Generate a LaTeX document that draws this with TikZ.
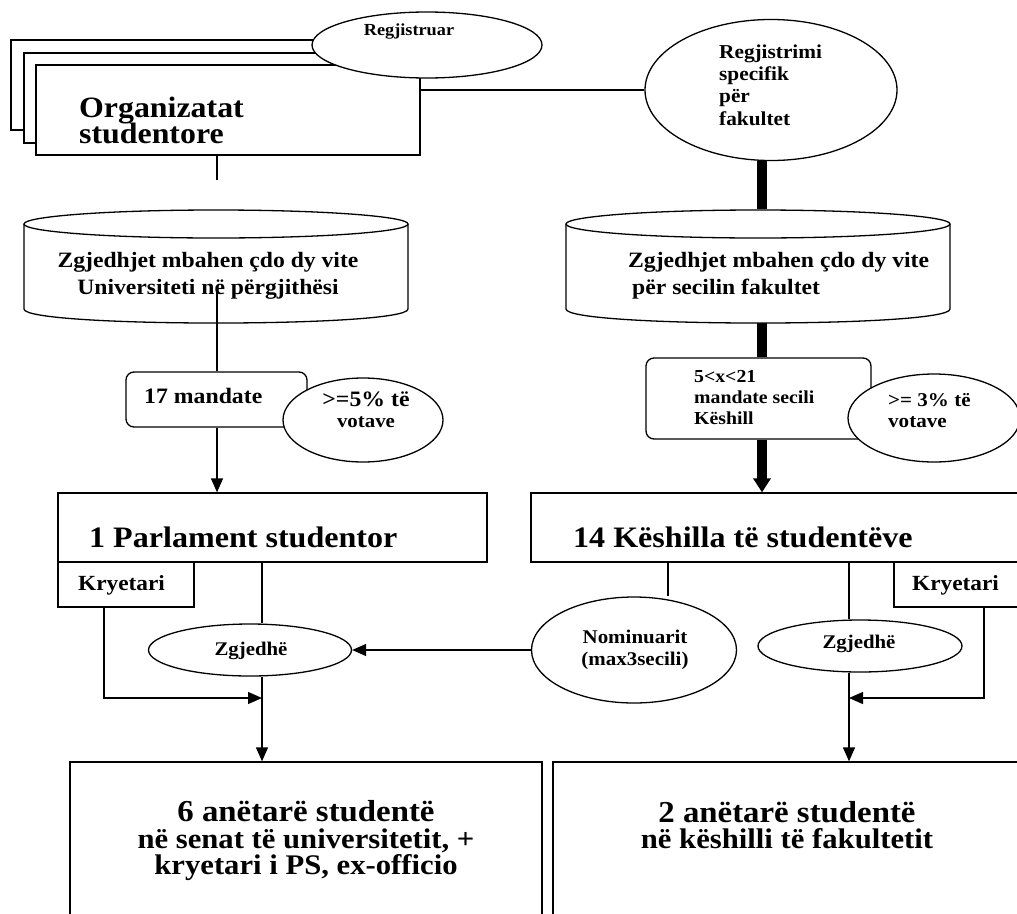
\documentclass[tikz,border=0pt]{standalone}
\usepackage{fontspec}
\setmainfont{Liberation Serif}[FakeStretch=1.08]
\usetikzlibrary{shapes.geometric,arrows.meta,backgrounds}
\newcommand{\fsz}[2]{\fontsize{#1}{#2}\selectfont\lineskiplimit=-100pt\relax}
\tikzset{
 ln/.style={line width=1.3pt},
 thk/.style={line width=10pt},
 arr/.style={ln,-{Triangle[width=12pt,length=14pt]}},
 tarr/.style={thk,-{Triangle[width=17pt,length=14pt]}},
 box/.style={draw,fill=white,ln,rectangle,inner sep=0pt},
 rbox/.style={box,rounded corners=8pt},
 ell/.style={draw,fill=white,ln,ellipse,inner sep=0pt},
 tx/.style={inner sep=0pt},
}
\begin{document}
\begin{tikzpicture}[x=1pt,y=-1pt]
\useasboundingbox (0,0) rectangle (1017,913);
\begin{pgfonlayer}{background}
\fill[white] (0,0) rectangle (1017,913);
\end{pgfonlayer}

% Organizatat stack
\node[box,minimum width=384pt,minimum height=90pt] (orgC) at (203,85) {};
\node[box,minimum width=384pt,minimum height=90pt] (orgB) at (216,98) {};
\node[box,minimum width=384pt,minimum height=90pt] (orgA) at (228,110) {};
\node[tx,anchor=west,align=left,font=\bfseries\fsz{29.5}{26}] (orgT) at (79,120) {Organizatat\\studentore};
\node[ell,minimum width=230pt,minimum height=66pt] (reg) at (427,45) {};
\node[tx,anchor=base,font=\bfseries\fsz{16.9}{20}] (regT) at (409,35) {Regjistruar};
\coordinate (stub) at (217,180);

% Regjistrimi
\node[ell,minimum width=252pt,minimum height=141pt] (regS) at (771,90) {};
\node[tx,anchor=west,align=left,font=\bfseries\fsz{19.7}{22.3}] (regST) at (719,85) {Regjistrimi\\specifik\\për\\fakultet};

% left cylinder
\path[ln,draw,fill=white] (24,224) -- (24,309) .. controls (24,327.7) and (408,327.7) .. (408,309) -- (408,224);
\node[ell,minimum width=384pt,minimum height=28pt] (cylLtop) at (216,224) {};
\node[tx,align=center,font=\bfseries\fsz{21.9}{27}] (cylLT) at (208,276) {Zgjedhjet mbahen çdo dy vite\\Universiteti në përgjithësi};
\coordinate (cLin) at (217,292);

% right cylinder
\path[ln,draw,fill=white] (566,224) -- (566,309) .. controls (566,327.7) and (950,327.7) .. (950,309) -- (950,224);
\node[ell,minimum width=384pt,minimum height=28pt] (cylRtop) at (758,224) {};
\node[tx,anchor=west,align=left,font=\bfseries\fsz{21.9}{27}] (cylRT) at (628,276) {Zgjedhjet mbahen çdo dy vite\\\hspace*{4pt}për secilin fakultet};
\coordinate (cylRbot) at (758,322);
\coordinate (tc) at (762,0);

% mandate boxes
\node[rbox,minimum width=181pt,minimum height=55pt] (box17) at (216.5,399.5) {};
\node[tx,anchor=base west,font=\bfseries\fsz{22}{24}] (box17T) at (144,403) {17 mandate};
\node[ell,minimum width=160pt,minimum height=84pt] (ell5) at (363,420) {};
\node[tx,align=center,font=\bfseries\fsz{22}{21}] (ell5T) at (366,410) {>=5\% të\\{\fsz{19.3}{21}votave}};

\node[rbox,minimum width=225pt,minimum height=81pt] (boxR) at (758.5,398.5) {};
\node[tx,anchor=west,align=left,font=\bfseries\fsz{18.3}{21}] (boxRT) at (694,398) {5<x<21\\mandate secili\\Këshill};
\node[ell,minimum width=172pt,minimum height=88pt] (ell3) at (934,418) {};
\node[tx,anchor=west,align=left,font=\bfseries\fsz{19.5}{21}] (ell3T) at (888,411) {>= 3\% të\\votave};

% Parlament / Keshilla
\node[box,minimum width=429pt,minimum height=69pt] (parl) at (272.5,527.5) {};
\node[tx,anchor=base west,font=\bfseries\fsz{29.7}{32}] (parlT) at (89,547) {1 Parlament studentor};
\node[box,minimum width=494pt,minimum height=69pt] (kesh) at (778,527.5) {};
\node[tx,anchor=base west,font=\bfseries\fsz{29.7}{32}] (keshT) at (573,547) {14 Këshilla të studentëve};

\node[box,minimum width=136pt,minimum height=45pt] (kryL) at (126,584.5) {};
\node[tx,anchor=base,font=\bfseries\fsz{21.6}{24}] (kryLT) at (121.5,590) {Kryetari};
\node[box,minimum width=136pt,minimum height=45pt] (kryR) at (962,584.5) {};
\node[tx,anchor=base,font=\bfseries\fsz{21.6}{24}] (kryRT) at (955.5,590) {Kryetari};

% Zgjedhe / Nominuarit
\node[ell,minimum width=203pt,minimum height=52pt] (zL) at (250,650) {};
\node[tx,anchor=base,font=\bfseries\fsz{19.3}{22}] (zLT) at (251,655) {Zgjedhë};
\node[ell,minimum width=205pt,minimum height=106pt] (nom) at (634,650) {};
\node[tx,align=center,font=\bfseries\fsz{19.4}{22}] (nomT) at (635,649.5) {Nominuarit\\(max3secili)};
\node[ell,minimum width=204pt,minimum height=52pt] (zR) at (860,646) {};
\node[tx,anchor=base,font=\bfseries\fsz{19.3}{22}] (zRT) at (859,648) {Zgjedhë};

% bottom boxes
\node[box,minimum width=472pt,minimum height=200pt] (sen) at (306,862) {};
\node[tx,align=center,font=\bfseries\fsz{30.4}{26.5}] (senT) at (306,841) {6 anëtarë studentë\\\fsz{28.4}{26.5}në senat të universitetit, +\\\fsz{28.4}{26.5}kryetari i PS, ex-officio};
\node[box,minimum width=477pt,minimum height=200pt] (fak) at (791.5,862) {};
\node[tx,align=center,font=\bfseries\fsz{30.4}{26.5}] (fakT) at (787,825) {2 anëtarë studentë\\\fsz{28.4}{26.5}në këshilli të fakultetit};

% helper coordinates
\coordinate (zLx) at (262,0);
\coordinate (kx) at (104,0);
\coordinate (jL) at (262,698);
\coordinate (nx) at (668,0);
\coordinate (zRx) at (849,0);
\coordinate (krx) at (984,0);
\coordinate (jR) at (849,698);

% line drawn over left cylinder
\draw[ln] (cLin) -- (box17.north -| cLin);

\begin{pgfonlayer}{background}
\draw[ln] (orgA.south -| stub) -- (stub);
\draw[ln] (orgA.east |- regS.west) -- (regS.west);
\draw[thk] (regS.south -| tc) -- (cylRtop.north -| tc);
\draw[thk] (cylRbot -| tc) -- (boxR.north -| tc);
\draw[tarr] (boxR.south -| tc) -- (kesh.north -| tc);
\draw[arr] (box17.south -| cLin) -- (parl.north -| cLin);
\draw[ln] (parl.south -| zLx) -- (zL.north -| zLx);
\draw[arr] (zL.south -| zLx) -- (sen.north -| zLx);
\draw[arr] (kryL.south -| kx) |- (jL);
\draw[arr] (nom.west) -- (zL.east);
\draw[ln] (kesh.south -| nx) -- (nx |- nom.north);
\draw[ln] (kesh.south -| zRx) -- (zR.north -| zRx);
\draw[arr] (zR.south -| zRx) -- (fak.north -| zRx);
\draw[arr] (kryR.south -| krx) |- (jR);
\end{pgfonlayer}
\end{tikzpicture}
\end{document}
